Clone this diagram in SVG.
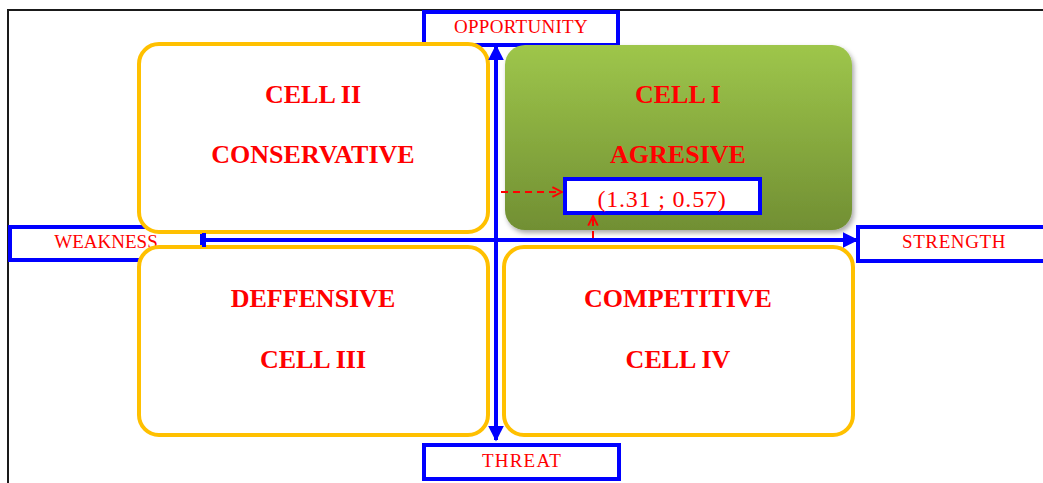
<svg xmlns="http://www.w3.org/2000/svg" width="1043" height="483" viewBox="0 0 1043 483">
<style>
.lbl{font-family:"Liberation Serif","Times New Roman",serif;font-size:19px;fill:#FF0000;text-anchor:middle}
.cell{font-family:"Liberation Serif","Times New Roman",serif;font-size:26px;font-weight:bold;fill:#FF0000;text-anchor:middle}
.box{fill:#FFFFFF;stroke:#0000FF;stroke-width:4}
.yc{fill:#FFFFFF;stroke:#FFC000;stroke-width:4}
.axis{stroke:#0000FF;stroke-width:4;fill:none}
.dash{stroke:#FF0000;stroke-width:2;stroke-dasharray:7 5;fill:none}
</style>
<defs>
<linearGradient id="green" x1="0" y1="0" x2="0" y2="1">
<stop offset="0" stop-color="#9EC64B"/>
<stop offset="1" stop-color="#718F33"/>
</linearGradient>
<filter id="sh" x="-5%" y="-5%" width="115%" height="120%">
<feDropShadow dx="2" dy="3" stdDeviation="2.5" flood-color="#000000" flood-opacity="0.35"/>
</filter>
<marker id="ah" viewBox="0 0 10 10" refX="9" refY="5" markerWidth="4" markerHeight="4" orient="auto" markerUnits="strokeWidth">
<path d="M0,0 L10,5 L0,10 Z" fill="#0000FF"/>
</marker>
<marker id="ra" viewBox="0 0 10 10" refX="9" refY="5" markerWidth="12" markerHeight="12" orient="auto" markerUnits="userSpaceOnUse">
<path d="M1,1 L9,5 L1,9" fill="none" stroke="#FF0000" stroke-width="1.6"/>
</marker>
</defs>
<rect width="1043" height="483" fill="#FFFFFF"/>
<g id="frame" fill="none" stroke="#1A1A1A" stroke-width="2">
<path d="M8,483 V10 H1043"/>
</g>
<g id="opportunity"><rect class="box" x="424" y="12" width="194" height="33"/><text class="lbl" x="521" y="33" letter-spacing="0.3">OPPORTUNITY</text></g>
<g id="weakness"><rect class="box" x="10" y="227" width="192" height="33"/><text class="lbl" x="106" y="248">WEAKNESS</text></g>
<g id="strength"><rect class="box" x="858" y="227" width="192" height="34"/><text class="lbl" x="954" y="248" letter-spacing="0.6">STRENGTH</text></g>
<g id="threat"><rect class="box" x="424" y="445" width="195" height="34"/><text class="lbl" x="522" y="467" letter-spacing="1.2">THREAT</text></g>
<g id="cell2"><rect class="yc" x="139" y="44" width="349" height="188" rx="20"/><text class="cell" x="313" y="103">CELL II</text><text class="cell" x="313" y="163">CONSERVATIVE</text></g>
<g id="cell1"><rect x="505" y="45" width="347" height="185" rx="20" fill="url(#green)" filter="url(#sh)"/><text class="cell" x="678" y="103">CELL I</text><text class="cell" x="678" y="163">AGRESIVE</text></g>
<g id="cell3"><rect class="yc" x="139" y="247" width="349" height="188" rx="20"/><text class="cell" x="313" y="307">DEFFENSIVE</text><text class="cell" x="313" y="368">CELL III</text></g>
<g id="cell4"><rect class="yc" x="504" y="247" width="349" height="188" rx="20"/><text class="cell" x="678" y="307">COMPETITIVE</text><text class="cell" x="678" y="368">CELL IV</text></g>
<g id="connectors">
<line class="axis" x1="496" y1="240" x2="496" y2="46" marker-end="url(#ah)"/>
<line class="axis" x1="496" y1="240" x2="496" y2="440" marker-end="url(#ah)"/>
<line class="axis" x1="204" y1="240" x2="857" y2="240" marker-end="url(#ah)"/>
<line class="axis" x1="204" y1="233" x2="204" y2="247"/>
<line class="dash" x1="501" y1="192" x2="562" y2="192" marker-end="url(#ra)"/>
<line class="dash" x1="593" y1="238" x2="593" y2="216" marker-end="url(#ra)"/>
</g>
<g id="point"><rect class="box" x="565" y="179" width="195" height="34"/><text x="662" y="207" font-family="Liberation Serif,'Times New Roman',serif" font-size="24" fill="#FF0000" text-anchor="middle" letter-spacing="0.8">(1.31 ; 0.57)</text></g>
</svg>
